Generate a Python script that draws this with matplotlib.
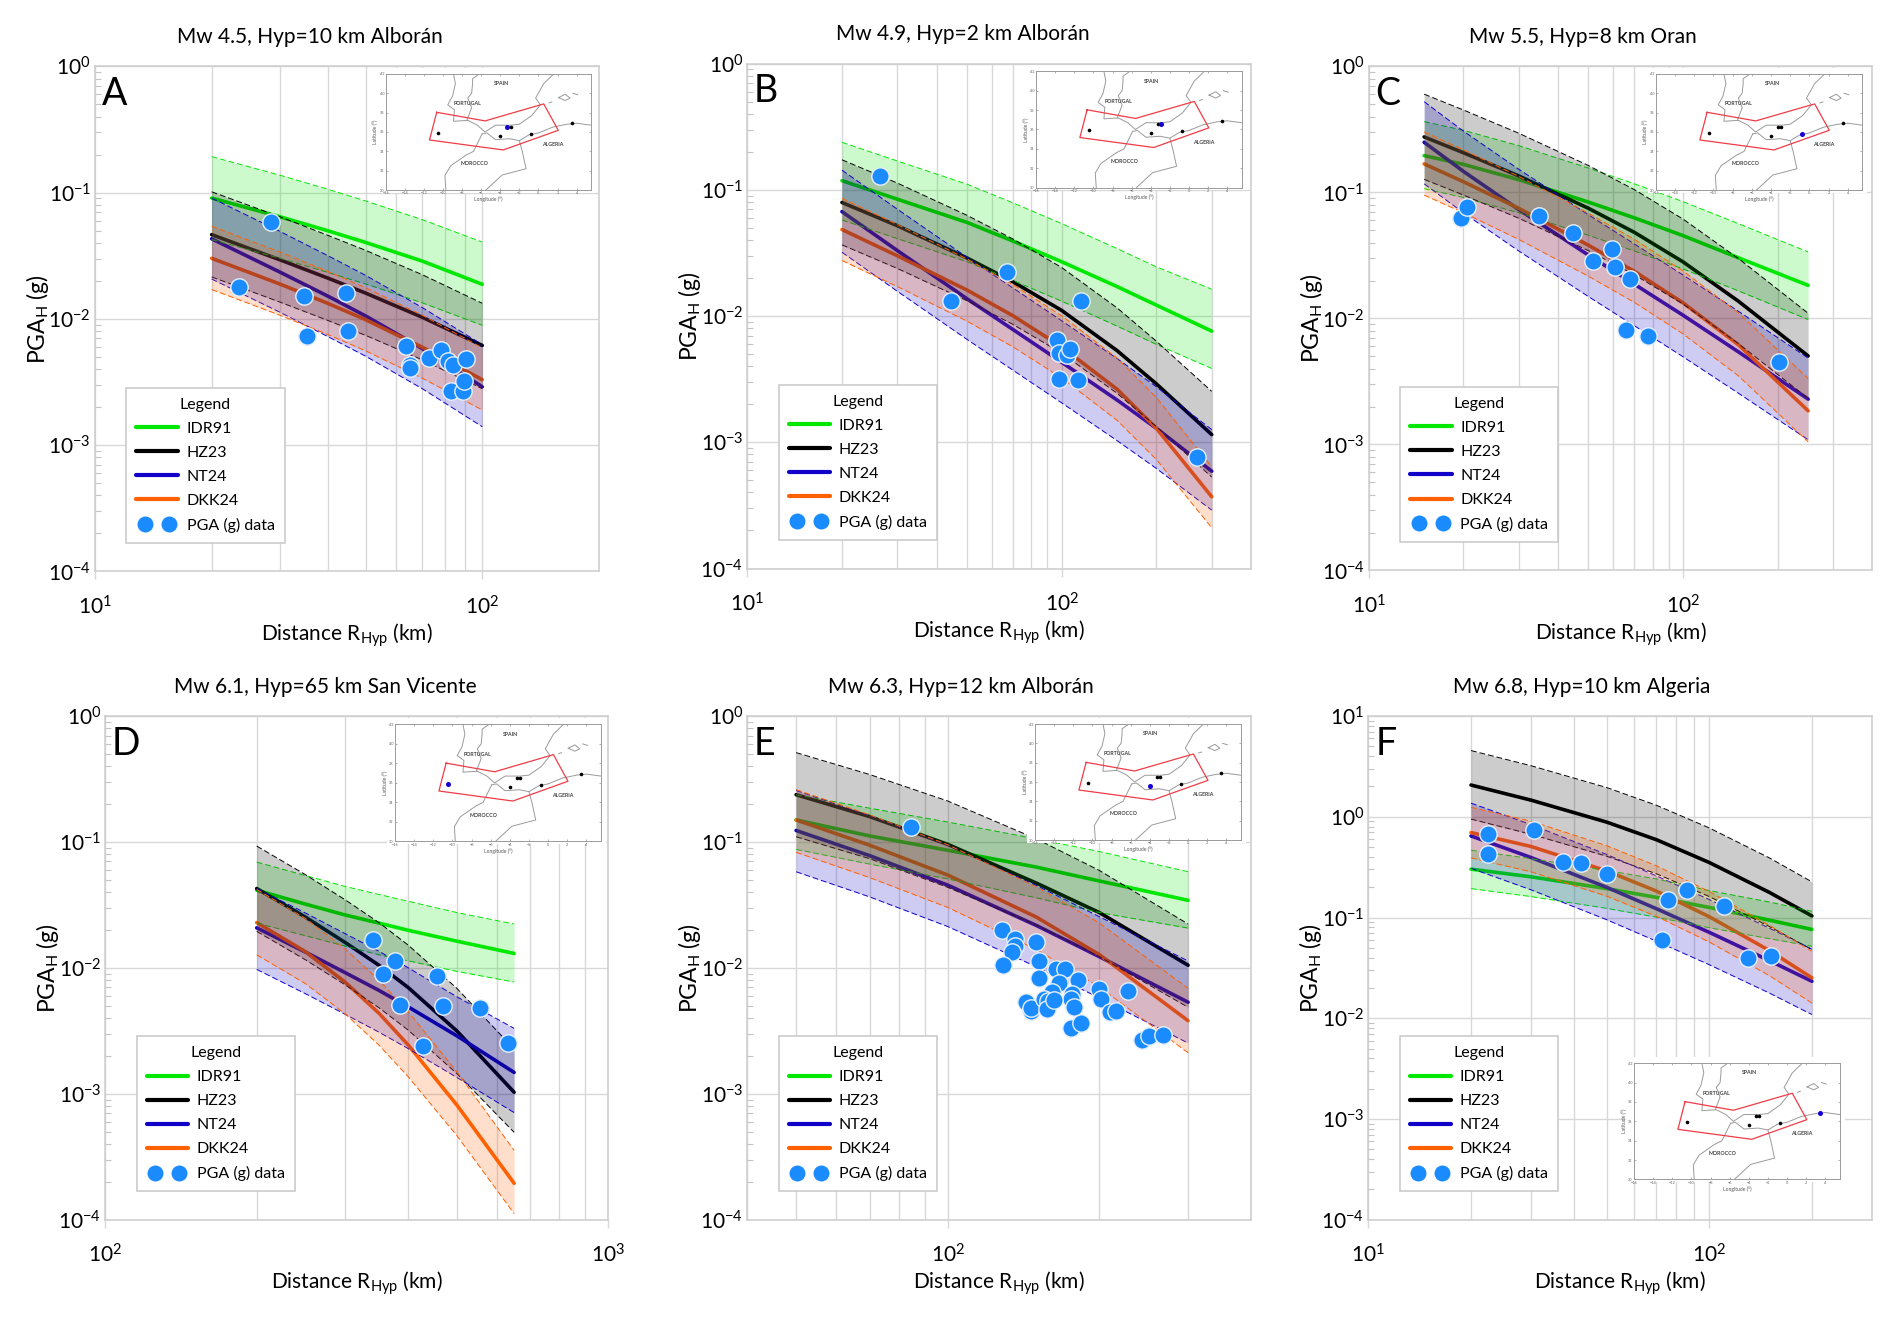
import matplotlib
matplotlib.use("Agg")
import matplotlib.pyplot as plt
from matplotlib.legend_handler import HandlerLine2D
from matplotlib.lines import Line2D
from matplotlib.patches import Rectangle
from matplotlib.ticker import LogLocator, NullFormatter

plt.rcParams['font.family'] = ['Lato', 'DejaVu Sans']
plt.rcParams['mathtext.fontset'] = 'custom'
plt.rcParams['mathtext.rm'] = 'Lato'
plt.rcParams['mathtext.it'] = 'Lato'
plt.rcParams['mathtext.default'] = 'rm'

# panel A
A_DIST = [20, 30, 40, 50, 70, 100]
A_IDR = [.0906, .0645, .0498, .0403, .0287, .0188]
A_IDR_HI = [.193, .1375, .1062, .0859, .0611, .0406]
A_IDR_LO = [.0425, .0302, .0233, .0189, .0134, .0089]
A_HZ = [.0465, .0294, .021, .016, .0103, .00616]
A_HZ_HI = [.1016, .0645, .0458, .0349, .0224, .0133]
A_HZ_LO = [.0215, .0136, .0097, .0074, .00474, .0028]
A_NT = [.0431, .0235, .0151, .01054, .00583, .0029]
A_NT_HI = [.0906, .0494, .0316, .0221, .0123, .00625]
A_NT_LO = [.0207, .0113, .00722, .00506, .0028, .0014]
A_DKK = [.0302, .0189, .01324, .00985, .00597, .0033]
A_DKK_HI = [.0542, .0339, .0237, .01765, .0107, .0059]
A_DKK_LO = [.0171, .0107, .0075, .00558, .00339, .0019]
A_PGA_R = [23.5, 28.4, 34.6, 44.6, 35.2, 44.9, 63.5, 65.1, 65.1, 72.8, 78.3, 81.4, 84, 91, 82.8, 89.2, 89.7]
A_PGA = [.0179, .0584, .0152, .016, .00733, .00796, .00611, .00428, .00412, .00491, .00566, .00462, .00428, .00483, .00268, .00268, .00323]

# panel B
B_DIST = [20, 30, 50, 70, 100, 150, 200, 300]
B_IDR = [.118, .0842, .0551, .0392, .0269, .0171, .0122, .00759]
B_IDR_HI = [.2375, .169, .1106, .0787, .0539, .0342, .0245, .0163]
B_IDR_LO = [.0577, .041, .0269, .0191, .0131, .00832, .00596, .00384]
B_HZ = [.0793, .0519, .0288, .01866, .01107, .00532, .0029, .00115]
B_HZ_HI = [.1728, .113, .0627, .0407, .0242, .0116, .00632, .00253]
B_HZ_LO = [.0366, .0238, .0132, .00857, .00508, .00244, .00133, .00053]
B_NT = [.0671, .033, .01368, .00781, .0043, .00216, .00129, .00059]
B_NT_HI = [.143, .0702, .0292, .01667, .00917, .0046, .00275, .00126]
B_NT_LO = [.032, .0157, .00652, .00372, .00205, .00103, .00062, .00029]
B_DKK = [.0484, .03, .01604, .01004, .00569, .00263, .00129, .00037]
B_DKK_HI = [.0855, .0531, .0283, .0177, .01004, .00464, .00226, .00064]
B_DKK_LO = [.0275, .0171, .0091, .00569, .00323, .00149, .00073, .00021]
B_PGA_R = [26.5, 66.8, 44.6, 114.8, 96.5, 97.7, 104.3, 105.9, 97.7, 112.4, 269]
B_PGA = [.1286, .0222, .0131, .0131, .00642, .00512, .00493, .00552, .00318, .00313, .00077]

# panel C
C_DIST = [15, 20, 30, 50, 70, 100, 150, 250]
C_IDR = [.196, .167, .1262, .0838, .0628, .0454, .0303, .0183]
C_IDR_HI = [.365, .311, .235, .156, .117, .0845, .0565, .0337]
C_IDR_LO = [.107, .0912, .0689, .0457, .0343, .0247, .01655, .0098]
C_HZ = [.2757, .2065, .1352, .0748, .0482, .0281, .0137, .00504]
C_HZ_HI = [.602, .451, .295, .1634, .1052, .0614, .0299, .011]
C_HZ_LO = [.127, .0953, .0624, .0345, .0222, .013, .00632, .00232]
C_NT = [.25, .1469, .0731, .0318, .0187, .0106, .00543, .00229]
C_NT_HI = [.525, .3066, .1527, .0664, .039, .0221, .0114, .00485]
C_NT_LO = [.117, .0689, .0343, .0149, .00875, .00496, .00255, .00109]
C_DKK = [.1684, .1216, .0748, .0381, .02364, .01328, .00618, .00185]
C_DKK_HI = [.302, .2178, .1342, .0683, .0424, .0238, .01107, .00334]
C_DKK_LO = [.0953, .0689, .0424, .0216, .0134, .00753, .0035, .00105]
C_PGA_R = [19.6, 20.6, 34.9, 44.5, 51.7, 59.4, 60.7, 67.9, 65.9, 77.3, 202]
C_PGA = [.0629, .0771, .0653, .0475, .0288, .0356, .0257, .0206, .00812, .0073, .0045]

# panel D
D_DIST = [200, 250, 300, 350, 400, 500, 650]
D_IDR = [.0414, .0321, .0263, .0227, .0199, .0163, .01303]
D_IDR_HI = [.0692, .0541, .0443, .0383, .0338, .0275, .0223]
D_IDR_LO = [.0227, .018, .0149, .0127, .0114, .00938, .00773]
D_HZ = [.0427, .0253, .0159, .0105, .007, .00316, .00103]
D_HZ_HI = [.0928, .055, .0347, .0229, .0152, .00689, .00227]
D_HZ_LO = [.0195, .0116, .00733, .00483, .00321, .00145, .000495]
D_NT = [.0208, .01336, .00916, .00663, .00491, .00289, .00148]
D_NT_HI = [.0427, .0273, .0187, .01355, .01004, .0059, .00331]
D_NT_LO = [.00973, .00624, .00428, .00309, .00229, .00135, .00071]
D_DKK = [.0229, .01345, .00769, .00437, .00245, .000816, .000195]
D_DKK_HI = [.042, .0247, .0141, .00803, .00451, .0015, .000356]
D_DKK_LO = [.0127, .0075, .00431, .00244, .00137, .000466, .000112]
D_PGA_R = [340, 377, 356, 385, 456, 469, 555, 428, 632]
D_PGA = [.01656, .01127, .00901, .00506, .00855, .00499, .00483, .0024, .00253]

# panel E
E_DIST = [50, 70, 100, 150, 200, 300]
E_IDR = [.1495, .1116, .0859, .0631, .049, .0344]
E_IDR_HI = [.2372, .1854, .1439, .1057, .0839, .058]
E_IDR_LO = [.0873, .0667, .0509, .036, .0275, .0207]
E_HZ = [.2372, .1589, .0957, .0471, .0275, .0105]
E_HZ_HI = [.512, .343, .2114, .1057, .0594, .0223]
E_HZ_LO = [.11, .0736, .0436, .0218, .0123, .00487]
E_NT = [.1233, .0778, .0454, .0217, .01227, .00534]
E_NT_HI = [.2562, .1614, .0942, .0451, .0255, .01135]
E_NT_LO = [.058, .0366, .0213, .0102, .00577, .00253]
E_DKK = [.1495, .0942, .0546, .0253, .01274, .00381]
E_DKK_HI = [.26, .164, .0951, .044, .0227, .00689]
E_DKK_LO = [.0827, .0521, .0302, .01396, .00705, .00212]
E_PGA_R = [84.6, 127.9, 136.2, 136, 134.2, 129, 150, 151.5, 152, 163.8, 170.7, 166, 181.5, 161.4, 176.5, 175.8, 177.8,
           143, 146.5, 146.5, 155, 157.8, 157.3, 162.9, 175.5, 184.3, 200, 201.8, 228.2, 209.9, 215.4, 243.1, 251.5, 267.4]
E_PGA = [.1322, .0199, .01707, .01486, .01345, .0105, .01592, .01144, .00834, .00989, .00973, .0076, .00797, .00647, .00622, .00567, .00487,
         .00534, .00458, .00483, .00567, .00547, .00469, .00555, .00331, .00366, .00678, .00564, .00653, .00448, .00458, .00267, .00286, .00293]

# panel F
F_DIST = [20, 30, 50, 70, 100, 150, 200]
F_IDR = [.302, .2535, .1936, .1585, .1259, .0942, .0762]
F_IDR_HI = [.4656, .384, .293, .2415, .185, .1426, .1153]
F_IDR_LO = [.1938, .1614, .1233, .1007, .0793, .0617, .0519]
F_HZ = [2.065, 1.462, .885, .5916, .3516, .1778, .1038]
F_HZ_HI = [4.54, 3.21, 1.95, 1.3, .7745, .391, .226]
F_HZ_LO = [.948, .67, .406, .2716, .1614, .0815, .0481]
F_NT = [.645, .394, .1995, .1222, .0713, .0374, .0233]
F_NT_HI = [1.365, .836, .4227, .2588, .151, .0785, .0485]
F_NT_LO = [.3076, .1884, .0951, .0582, .034, .0178, .0109]
F_DKK = [.697, .507, .2904, .1828, .1019, .0471, .0252]
F_DKK_HI = [1.24, .904, .5164, .3258, .1811, .0839, .0462]
F_DKK_LO = [.391, .2844, .1628, .1028, .0571, .0265, .01416]
F_PGA_R = [22.4, 22.4, 30.6, 37.3, 42.1, 50, 75.5, 86.3, 110.6, 72.5, 130.2, 151.3]
F_PGA = [.676, .4227, .738, .3556, .345, .2716, .148, .1866, .1294, .0605, .04, .0412]

# map lines, lon/lat
IBERIA_LON = [-8.9, -8.7, -9, -9.5, -8.8, -8.9, -7.4, -6.4, -5.6, -4.5, -2.9, -2, -0.7, 0.2, -0.3, 0.55, 1.6]
IBERIA_LAT = [42, 41, 39.7, 38.8, 38.3, 37.1, 37.2, 36.7, 36, 36.7, 36.7, 36.8, 37.7, 38.8, 39.5, 41, 42]
BORDER_PT_LON = [-6.2, -6.9, -6.9, -7, -7.4, -7, -7.5]
BORDER_PT_LAT = [42, 41.5, 41, 40, 39.5, 38.5, 37.2]
ATLAS_LON = [-5.9, -6.8, -7.6, -9.2, -9.8, -9.7]
ATLAS_LAT = [35.8, 34, 33.6, 32.5, 31.5, 30]
AFRICA_LON = [-5.9, -5.4, -4.5, -3, -2, -1, 0, 1.5, 3, 4, 5.5]
AFRICA_LAT = [35.8, 35.9, 35.2, 35.3, 35.1, 35.7, 35.9, 36.5, 36.8, 36.9, 36.7]
BORDER_DZ_LON = [-2, -1.7, -1.3, -3.8, -5.5]
BORDER_DZ_LAT = [35.1, 34, 32.2, 31.55, 30]
MALLORCA_LON = [2.1, 2.8, 3.3, 2.8, 2.1]
MALLORCA_LAT = [39.55, 39.9, 39.5, 39.25, 39.55]
MENORCA_LON = [3.6, 4.1]
MENORCA_LAT = [40, 39.85]
IBIZA_LON = [1.1, 1.4]
IBIZA_LAT = [39, 39.1]
ZONE_LON = [-10.66, -5.59, .55, 2.07, -3.69, -11.41, -10.66]
ZONE_LAT = [38.03, 37.14, 38.9, 36.17, 34.14, 35.17, 38.03]
QUAKE_LON = [-10.5, -4, -3.25, -2.93, -0.76, 3.48]
QUAKE_LAT = [35.9, 35.6, 36.55, 36.55, 35.83, 36.9]

W, H = 1892, 1319
GREEN, BLACK, BLUE, ORANGE = '#00e800', '#000000', '#1000c8', '#ff6000'
DOT = '#1a8cff'
GRID = '#d8d8d8'

fig = plt.figure(figsize=(W / 100, H / 100), dpi=100)


def add_px_axes(x0, y0, x1, y1):
    return fig.add_axes([x0 / W, 1 - y1 / H, (x1 - x0) / W, (y1 - y0) / H])


def draw_map(box, quake):
    x0, y0, x1, y1 = box
    # the map picture hides the grid behind it
    fig.add_artist(Rectangle(((x0 - 8) / W, 1 - (y1 + 2.5) / H), (x1 - x0 + 13) / W, (y1 - y0 + 8.5) / H,
                             transform=fig.transFigure, fc='white', ec='none', zorder=5))
    m = add_px_axes(x0, y0, x1, y1)
    m.set_zorder(6)
    m.set_xlim(-16, 5.5)
    m.set_ylim(30, 42)
    for lo, la in [(IBERIA_LON, IBERIA_LAT), (BORDER_PT_LON, BORDER_PT_LAT), (ATLAS_LON, ATLAS_LAT),
                   (AFRICA_LON, AFRICA_LAT), (BORDER_DZ_LON, BORDER_DZ_LAT), (MALLORCA_LON, MALLORCA_LAT),
                   (MENORCA_LON, MENORCA_LAT), (IBIZA_LON, IBIZA_LAT)]:
        m.plot(lo, la, color='#9a9a9a', lw=.7)
    m.plot(ZONE_LON, ZONE_LAT, color='#f03c46', lw=.9)
    m.plot(QUAKE_LON, QUAKE_LAT, 'o', color='black', ms=2.6, mew=0)
    m.plot(QUAKE_LON[quake], QUAKE_LAT[quake], 'o', color='#1400d2', ms=3.6, mew=0)
    for name, lo, la in [('SPAIN', -3.9, 41), ('PORTUGAL', -7.4, 38.9), ('ALGERIA', 1.5, 34.7), ('MOROCCO', -6.7, 32.7)]:
        m.text(lo, la, name, fontsize=3.8, fontweight='bold', color='#444444', ha='center', va='center')
    m.set_xticks(range(-16, 5, 2))
    m.set_yticks(range(30, 43, 2))
    m.tick_params(direction='in', length=1.5, width=.4, color='#777777', labelsize=2.8, labelcolor='#666666',
                  top=True, right=True, pad=1)
    m.set_xlabel('Longitude (°)', fontsize=3.6, color='#555555', labelpad=1)
    m.set_ylabel('Latitude (°)', fontsize=3.6, color='#555555', labelpad=1)
    for s in m.spines.values():
        s.set_color('#9a9a9a')
        s.set_linewidth(.7)


def draw_panel(p):
    x0, y0, x1, y1 = p['box']
    ax = add_px_axes(x0, y0, x1, y1)
    ax.set_xscale('log')
    ax.set_yscale('log')
    ax.set_xlim(p['xlim'])
    ax.set_ylim(p['ylim'])
    ax.set_axisbelow(True)

    ax.set_xticks(p['xticks'])
    ax.set_xticklabels(['$10^{%d}$' % len(str(t)[1:]) for t in p['xticks']])
    ax.xaxis.set_minor_locator(LogLocator(base=10, subs=range(2, 10), numticks=20))
    ax.xaxis.set_minor_formatter(NullFormatter())
    ax.yaxis.set_major_locator(LogLocator(base=10, numticks=10))
    ax.yaxis.set_minor_locator(LogLocator(base=10, subs=range(2, 10), numticks=20))
    ax.yaxis.set_minor_formatter(NullFormatter())
    ax.grid(True, which='major', color=GRID, lw=1)
    ax.grid(True, which='minor', axis='x', color=GRID, lw=1)
    ax.tick_params(which='major', axis='x', length=6, width=1, color=GRID, labelsize=15, pad=11)
    ax.tick_params(which='minor', axis='x', length=0)
    ax.tick_params(which='major', axis='y', length=0, labelsize=15, pad=3)
    ax.tick_params(which='minor', axis='y', direction='in', length=4, width=.8, color='#c4c4c4')
    for s in ax.spines.values():
        s.set_color('#cdcdcd')
        s.set_linewidth(1.1)

    d = p['dist']
    # means go under the shaded bands, so they dull where bands overlap
    for mid, hi, lo, col in p['curves']:
        ax.plot(d, mid, color=col, lw=2.6, zorder=2, solid_capstyle='round')
    for mid, hi, lo, col in p['curves']:
        ax.fill_between(d, lo, hi, color=col, alpha=.2, lw=0, zorder=3)
        ax.plot(d, hi, color=col, lw=.7, ls=(0, (6, 3)), zorder=3)
        ax.plot(d, lo, color=col, lw=.7, ls=(0, (6, 3)), zorder=3)
    ax.plot(p['r'], p['pga'], 'o', color=DOT, ms=12.5, mec='#e8f0fa', mew=1, zorder=4)

    w = x1 - x0
    h = y1 - y0
    ax.text(.5 - p['title_shift'] / w, 1 + 29 / h, p['title'], transform=ax.transAxes, ha='center', va='center', fontsize=15)
    ax.text(.0135, 1 - 28 / h, p['letter'], transform=ax.transAxes, ha='left', va='center', fontsize=27, zorder=8)
    ax.set_xlabel('Distance R$_{Hyp}$ (km)', fontsize=15)
    ax.set_ylabel('PGA$_{H}$ (g)', fontsize=16.5)
    ax.xaxis.set_label_coords(.5, -50 / h)
    ax.yaxis.set_label_coords(-44 / w, .5)

    handles = [Line2D([], [], color=GREEN, lw=3, solid_capstyle='round', label='IDR91'),
               Line2D([], [], color=BLACK, lw=3, solid_capstyle='round', label='HZ23'),
               Line2D([], [], color=BLUE, lw=3, solid_capstyle='round', label='NT24'),
               Line2D([], [], color=ORANGE, lw=3, solid_capstyle='round', label='DKK24')]
    dots = Line2D([], [], color=DOT, marker='o', ls='none', ms=11.5, mew=0, label='PGA (g) data')
    leg = ax.legend(handles=handles + [dots], title='Legend', loc='lower left', bbox_to_anchor=(.0623, .0566),
                    borderaxespad=0, numpoints=2, fontsize=11.5, title_fontsize=11.5, fancybox=False,
                    framealpha=1, edgecolor='#c8c8c8', handlelength=2.6, handletextpad=.55, labelspacing=.62,
                    borderpad=.62, handler_map={dots: HandlerLine2D(marker_pad=.55),
                                                Line2D: HandlerLine2D(marker_pad=0)})
    leg.set_zorder(7)
    leg.get_frame().set_linewidth(1.1)

    draw_map(p['map'], p['quake'])


def curves(idr, idr_hi, idr_lo, hz, hz_hi, hz_lo, nt, nt_hi, nt_lo, dkk, dkk_hi, dkk_lo):
    return [(idr, idr_hi, idr_lo, GREEN), (hz, hz_hi, hz_lo, BLACK), (nt, nt_hi, nt_lo, BLUE), (dkk, dkk_hi, dkk_lo, ORANGE)]


panels = [
    dict(letter='A', title='Mw 4.5, Hyp=10 km Alborán', dist=A_DIST, r=A_PGA_R, pga=A_PGA,
         curves=curves(A_IDR, A_IDR_HI, A_IDR_LO, A_HZ, A_HZ_HI, A_HZ_LO, A_NT, A_NT_HI, A_NT_LO, A_DKK, A_DKK_HI, A_DKK_LO),
         box=(95.1, 66.4, 598.8, 571.4), xlim=(10, 200), ylim=(1e-4, 1), xticks=[10, 100],
         map=(385.7, 73.9, 591, 190), quake=2, title_shift=37),
    dict(letter='B', title='Mw 4.9, Hyp=2 km Alborán', dist=B_DIST, r=B_PGA_R, pga=B_PGA,
         curves=curves(B_IDR, B_IDR_HI, B_IDR_LO, B_HZ, B_HZ_HI, B_HZ_LO, B_NT, B_NT_HI, B_NT_LO, B_DKK, B_DKK_HI, B_DKK_LO),
         box=(747.3, 63.5, 1251, 568.5), xlim=(10, 400), ylim=(1e-4, 1), xticks=[10, 100],
         map=(1036, 71.4, 1241.6, 187.6), quake=3, title_shift=36),
    dict(letter='C', title='Mw 5.5, Hyp=8 km Oran', dist=C_DIST, r=C_PGA_R, pga=C_PGA,
         curves=curves(C_IDR, C_IDR_HI, C_IDR_LO, C_HZ, C_HZ_HI, C_HZ_LO, C_NT, C_NT_HI, C_NT_LO, C_DKK, C_DKK_HI, C_DKK_LO),
         box=(1368.8, 66.4, 1872.3, 570.5), xlim=(10, 400), ylim=(1e-4, 1), xticks=[10, 100],
         map=(1655.8, 73.9, 1862.2, 190), quake=4, title_shift=38),
    dict(letter='D', title='Mw 6.1, Hyp=65 km San Vicente', dist=D_DIST, r=D_PGA_R, pga=D_PGA,
         curves=curves(D_IDR, D_IDR_HI, D_IDR_LO, D_HZ, D_HZ_HI, D_HZ_LO, D_NT, D_NT_HI, D_NT_LO, D_DKK, D_DKK_HI, D_DKK_LO),
         box=(105.3, 716, 608.2, 1219.8), xlim=(100, 1000), ylim=(1e-4, 1), xticks=[100, 1000],
         map=(395, 724.4, 600.8, 841.4), quake=0, title_shift=31),
    dict(letter='E', title='Mw 6.3, Hyp=12 km Alborán', dist=E_DIST, r=E_PGA_R, pga=E_PGA,
         curves=curves(E_IDR, E_IDR_HI, E_IDR_LO, E_HZ, E_HZ_HI, E_HZ_LO, E_NT, E_NT_HI, E_NT_LO, E_DKK, E_DKK_HI, E_DKK_LO),
         box=(747.3, 716, 1251, 1219.8), xlim=(40, 400), ylim=(1e-4, 1), xticks=[100],
         map=(1035, 724, 1240.8, 840), quake=1, title_shift=38),
    dict(letter='F', title='Mw 6.8, Hyp=10 km Algeria', dist=F_DIST, r=F_PGA_R, pga=F_PGA,
         curves=curves(F_IDR, F_IDR_HI, F_IDR_LO, F_HZ, F_HZ_HI, F_HZ_LO, F_NT, F_NT_HI, F_NT_LO, F_DKK, F_DKK_HI, F_DKK_LO),
         box=(1368.4, 716, 1871.9, 1219.8), xlim=(10, 300), ylim=(1e-4, 10), xticks=[10, 100],
         map=(1634, 1063.2, 1839.6, 1179.4), quake=5, title_shift=38),
]

for p in panels:
    draw_panel(p)

fig.savefig('out.png', dpi=100, facecolor='white')
